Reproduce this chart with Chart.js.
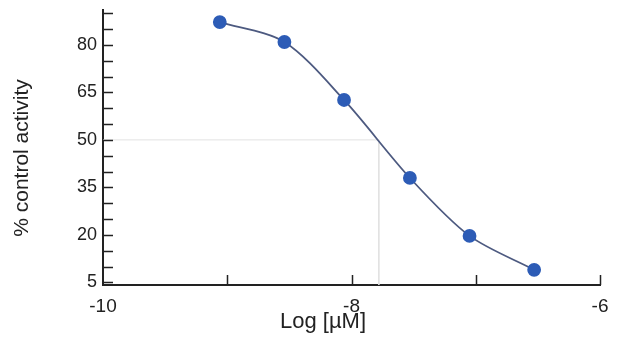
<!DOCTYPE html>
<html><head><meta charset="utf-8">
<script src="https://cdn.jsdelivr.net/npm/chart.js@4"></script>
<style>html,body{margin:0;padding:0;background:#fff;overflow:hidden}</style>
</head><body>
<canvas id="c" width="618" height="354"></canvas>
<script>
// ---- data ----
const logConc = [-9.06, -8.54, -8.06, -7.53, -7.05, -6.53];
const activity = [87.2, 80.9, 62.6, 38.0, 19.7, 9.0];
const ic50Log = -7.78;
const halfActivity = 50;
const xTickValues = [-10, -9, -8, -7, -6];
const xTickLabels = [-10, -8, -6];
const yTickValues = [5, 10, 15, 20, 25, 30, 35, 40, 45, 50, 55, 60, 65, 70, 75, 80, 85, 90];
const yTickLabels = [5, 20, 35, 50, 65, 80];
const xMin = -10, xMax = -6, yMin = 4.2, yMax = 91;
const xTitle = 'Log [µM]';
const yTitle = '% control activity';

const FONT = '"Liberation Sans", Arial, sans-serif';
const TEXT = '#222';

const axisDecor = {
  id: 'axisDecor',
  afterDraw(chart) {
    const {ctx, chartArea: a, scales: {x, y}} = chart;
    ctx.save();
    ctx.strokeStyle = '#222';
    ctx.lineWidth = 1.5;
    ctx.beginPath();
    x.ticks.forEach(t => {
      if (t.value === xMin) return;
      const px = Math.round(x.getPixelForValue(t.value)) + 0.5;
      ctx.moveTo(px, a.bottom); ctx.lineTo(px, a.bottom - 10);
    });
    y.ticks.forEach(t => {
      const py = Math.round(y.getPixelForValue(t.value)) + 0.5;
      ctx.moveTo(a.left, py); ctx.lineTo(a.left + 10, py);
    });
    ctx.stroke();
    ctx.fillStyle = TEXT;
    ctx.textAlign = 'center';
    ctx.textBaseline = 'middle';
    ctx.font = '22px ' + FONT;
    ctx.fillText(xTitle, 323, 322);
    ctx.font = '21px ' + FONT;
    ctx.translate(22, 158);
    ctx.rotate(-Math.PI / 2);
    ctx.fillText(yTitle, 0, 0);
    ctx.restore();
  }
};

new Chart(document.getElementById('c'), {
  type: 'scatter',
  data: {
    datasets: [
      {
        data: logConc.map((v, i) => ({x: v, y: activity[i]})),
        showLine: true,
        tension: 0.3,
        borderColor: '#4d5a80',
        borderWidth: 1.8,
        backgroundColor: '#2d5cb6',
        pointBackgroundColor: '#2d5cb6',
        pointBorderColor: '#2d5cb6',
        pointRadius: 6,
        order: 1
      },
      {
        data: [{x: xMin, y: halfActivity}, {x: ic50Log, y: halfActivity}, {x: ic50Log, y: yMin}],
        showLine: true,
        borderColor: '#e2e2e2',
        borderWidth: 1,
        pointRadius: 0,
        order: 2
      }
    ]
  },
  options: {
    responsive: false,
    animation: false,
    devicePixelRatio: 1,
    layout: {padding: {top: 10, right: 18, left: 0, bottom: 0}},
    plugins: {legend: {display: false}, tooltip: {enabled: false}},
    scales: {
      x: {
        type: 'linear', min: xMin, max: xMax,
        afterBuildTicks: s => { s.ticks = xTickValues.map(v => ({value: v})); },
        afterFit: s => { s.height = 69; s.paddingLeft = 0; s.paddingRight = 0; },
        grid: {display: false, drawTicks: false},
        border: {display: true, color: '#222', width: 2},
        ticks: {
          padding: 10, color: TEXT, font: {family: FONT, size: 19}, maxRotation: 0, autoSkip: false,
          callback: v => xTickLabels.includes(v) ? String(v) : ''
        }
      },
      y: {
        type: 'linear', min: yMin, max: yMax,
        afterBuildTicks: s => { s.ticks = yTickValues.map(v => ({value: v})); },
        afterFit: s => { s.width = 103; s.paddingTop = 0; s.paddingBottom = 0; },
        grid: {display: false, drawTicks: false},
        border: {display: true, color: '#222', width: 2},
        ticks: {
          padding: 6, color: TEXT, font: {family: FONT, size: 18}, autoSkip: false,
          callback: v => yTickLabels.includes(v) ? String(v) : ''
        }
      }
    }
  },
  plugins: [axisDecor]
});
</script>
</body></html>
